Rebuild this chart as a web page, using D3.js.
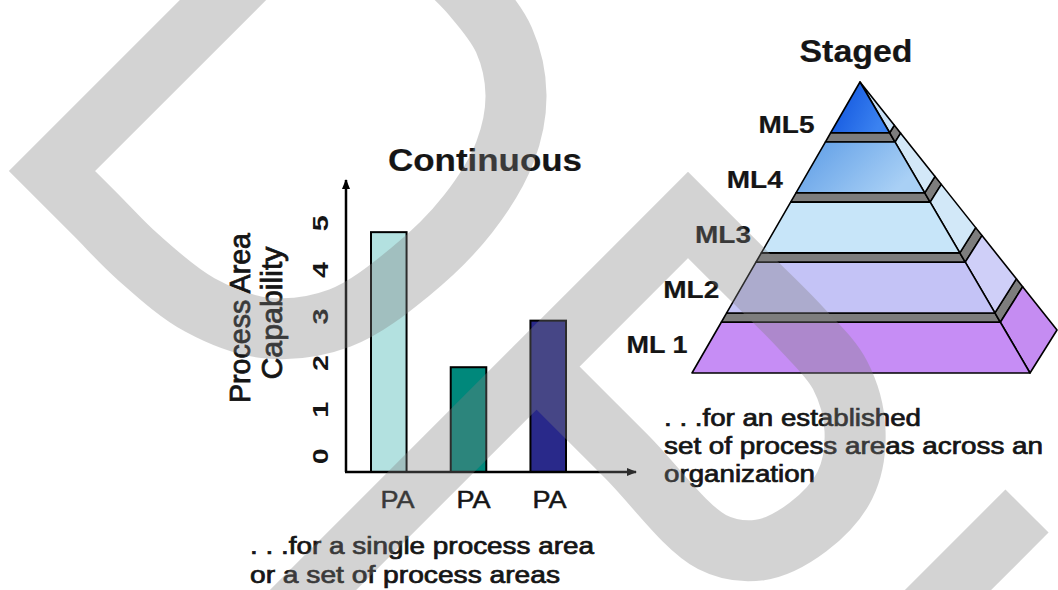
<!DOCTYPE html>
<html>
<head>
<meta charset="utf-8">
<script src="https://cdn.jsdelivr.net/npm/d3@7"></script>
<style>
  html, body { margin: 0; padding: 0; background: #ffffff; }
  svg { display: block; }
</style>
</head>
<body>
<svg id="chart" width="1058" height="590"></svg>
<script>
// Continuous representation: capability level of each process area
const processAreas = ["PA", "PA", "PA"];
const capability = [4.8, 1.9, 2.9];
const capabilityTicks = [0, 1, 2, 3, 4, 5];

// Staged representation: maturity levels, top of the pyramid first
const maturityLevels = ["ML5", "ML4", "ML3", "ML2", "ML 1"];

// Captions
const continuousTitle = "Continuous";
const stagedTitle = "Staged";
const axisTitle = ["Process Area", "Capability"];
const continuousCaption = [". . .for a single process area", "or a set of process areas"];
const stagedCaption = [". . .for an established", "set of process areas across an", "organization"];

const FONT = "'Liberation Sans', Arial, Helvetica, sans-serif";
const INK = "#151515";

const svg = d3.select("#chart");
svg.append("rect").attr("width", 1058).attr("height", 590).attr("fill", "#ffffff");

// small helper for a stretched text run
function txt(parent, s, o) {
  const t = parent.append("text")
    .text(s)
    .attr("x", o.x || 0).attr("y", o.y || 0)
    .attr("font-family", FONT)
    .attr("font-size", o.size)
    .attr("font-weight", o.weight || "normal")
    .attr("fill", INK)
    .attr("stroke", INK).attr("stroke-width", o.thick || 0.5)
    .attr("text-anchor", o.anchor || "start");
  if (o.len) t.attr("textLength", o.len).attr("lengthAdjust", "spacingAndGlyphs");
  if (o.transform) t.attr("transform", o.transform);
  return t;
}

// ---------- arrow markers ----------
const defs = svg.append("defs");
defs.append("marker")
  .attr("id", "arrow")
  .attr("viewBox", "0 0 10 8")
  .attr("refX", 9).attr("refY", 4)
  .attr("markerWidth", 11).attr("markerHeight", 8)
  .attr("markerUnits", "userSpaceOnUse")
  .attr("orient", "auto")
  .append("path").attr("d", "M0,0L10,4L0,8Z").attr("fill", "#000");

// ---------- continuous bar chart ----------
const y = d3.scaleLinear().domain([-0.35, 5.92]).range([472, 180]);
const x = d3.scaleBand().domain(d3.range(processAreas.length)).range([371, 566]).paddingInner(0.554);
const xLabel = d3.scalePoint().domain(d3.range(processAreas.length)).range([397, 549]);
const baseline = y(y.domain()[0]);
const axisX = x.range()[0] - 25;
const barFill = ["#b3e1e0", "#00887b", "#29298a"];

const chart = svg.append("g");

chart.selectAll("rect.bar")
  .data(capability)
  .join("rect")
  .attr("class", "bar")
  .attr("x", (d, i) => x(i))
  .attr("y", d => y(d))
  .attr("width", x.bandwidth())
  .attr("height", d => baseline - y(d))
  .attr("fill", (d, i) => barFill[i])
  .attr("stroke", "#000")
  .attr("stroke-width", 2);

// axes with arrow heads
chart.append("line")
  .attr("x1", axisX).attr("y1", baseline)
  .attr("x2", axisX).attr("y2", y(y.domain()[1]))
  .attr("stroke", "#000").attr("stroke-width", 2.5)
  .attr("marker-end", "url(#arrow)");
chart.append("line")
  .attr("x1", axisX - 1).attr("y1", baseline)
  .attr("x2", 636).attr("y2", baseline)
  .attr("stroke", "#000").attr("stroke-width", 2.5)
  .attr("marker-end", "url(#arrow)");

// rotated capability ticks
const yAxis = chart.append("g")
  .attr("transform", `translate(${axisX},0)`)
  .call(d3.axisLeft(y).tickValues(capabilityTicks).tickSize(0).tickFormat(d3.format("d")));
yAxis.select(".domain").remove();
yAxis.selectAll("text")
  .attr("x", 0).attr("dy", 0)
  .attr("text-anchor", "middle")
  .attr("transform", "translate(-18,0) rotate(-90)")
  .attr("font-family", FONT).attr("font-size", 22).attr("font-weight", "bold")
  .attr("fill", INK)
  .attr("textLength", 16).attr("lengthAdjust", "spacingAndGlyphs");

// process area labels
const xAxis = chart.append("g")
  .attr("transform", `translate(0,${baseline})`)
  .call(d3.axisBottom(xLabel).tickSize(0).tickFormat(i => processAreas[i]));
xAxis.select(".domain").remove();
xAxis.selectAll("text")
  .attr("y", 36).attr("dy", 0)
  .attr("font-family", FONT).attr("font-size", 24)
  .attr("fill", INK).attr("stroke", INK).attr("stroke-width", 0.5)
  .attr("textLength", 34).attr("lengthAdjust", "spacingAndGlyphs");

// axis title on two rotated lines
txt(chart, axisTitle[0], { size: 30, anchor: "middle", len: 170, thick: 0.8, transform: "translate(250,318) rotate(-90)" });
txt(chart, axisTitle[1], { size: 30, anchor: "middle", len: 133, thick: 0.8, transform: "translate(282,313) rotate(-90)" });

txt(chart, continuousTitle, { x: 485, y: 171, size: 32, weight: "bold", anchor: "middle", len: 194, thick: 0.2 });

txt(chart, continuousCaption[0], { x: 250, y: 554, size: 23, len: 344, thick: 0.7 });
txt(chart, continuousCaption[1], { x: 250, y: 583, size: 23, len: 310, thick: 0.7 });

// ---------- staged pyramid ----------
const apex = [860, 82];
const frontLeft = [692, 373];
const frontRight = [1030, 373];
const backRight = [1057, 330];
const along = (p, t) => [apex[0] + t * (p[0] - apex[0]), apex[1] + t * (p[1] - apex[1])];

const level = d3.scaleBand().domain(maturityLevels).range([0, 1]).paddingInner(0.155);

const frontFill = ["url(#g5)", "url(#g4)", "#c7e5f9", "#c4c3f6", "#c68df5"];
const sideFill = ["#c9e1f7", "#d3e8f8", "#d2e8f8", "#cfcff8", "#c58cf2"];

const gradients = [
  { id: "g5", from: "#0b4fdc", to: "#3b82f0" },
  { id: "g4", from: "#5b9be6", to: "#a9d0f5" }
];
gradients.forEach(g => {
  const lg = defs.append("linearGradient").attr("id", g.id)
    .attr("x1", "0").attr("y1", "0").attr("x2", "1").attr("y2", "0.4");
  lg.append("stop").attr("offset", "0").attr("stop-color", g.from);
  lg.append("stop").attr("offset", "1").attr("stop-color", g.to);
});

const pyramid = svg.append("g")
  .attr("stroke", "#000").attr("stroke-width", 1.6).attr("stroke-linejoin", "round");

const poly = pts => "M" + pts.map(p => p.join(",")).join("L") + "Z";
const front = (t0, t1) => poly([along(frontLeft, t0), along(frontRight, t0), along(frontRight, t1), along(frontLeft, t1)]);
const side = (t0, t1) => poly([along(frontRight, t0), along(backRight, t0), along(backRight, t1), along(frontRight, t1)]);

// grey ledges between the levels
maturityLevels.slice(1).forEach((lv, i) => {
  const t0 = level(maturityLevels[i]) + level.bandwidth();
  const t1 = level(lv);
  pyramid.append("path").attr("d", front(t0, t1)).attr("fill", "#7d7d7d");
  pyramid.append("path").attr("d", side(t0, t1)).attr("fill", "#7d7d7d");
});

maturityLevels.forEach((lv, i) => {
  const t0 = level(lv), t1 = t0 + level.bandwidth();
  pyramid.append("path").attr("d", side(t0, t1)).attr("fill", sideFill[i]);
  pyramid.append("path").attr("d", front(t0, t1)).attr("fill", frontFill[i]);
});

// level labels, right-aligned against the left face
const labelY = d3.scalePoint().domain(maturityLevels).range([133, 353]);
const leftEdgeX = yy => apex[0] + (yy - apex[1]) / (frontLeft[1] - apex[1]) * (frontLeft[0] - apex[0]);
maturityLevels.forEach(lv => {
  const yy = labelY(lv);
  txt(svg, lv, { x: leftEdgeX(yy) - 16, y: yy, size: 23, weight: "bold", anchor: "end", len: lv.length > 3 ? 61 : 56, thick: 0.2 });
});

txt(svg, stagedTitle, { x: 856, y: 62, size: 31, weight: "bold", anchor: "middle", len: 113, thick: 0.2 });

const stagedLens = [257, 379, 151];
stagedCaption.forEach((s, i) => {
  txt(svg, s, { x: 664, y: 426 + i * 28, size: 23, len: stagedLens[i], thick: 0.7 });
});

// ---------- grey ribbon logo laid over the page ----------
const ribbon = svg.append("g").attr("opacity", 0.34)
  .attr("fill", "none").attr("stroke", "#808080")
  .attr("stroke-width", 61).attr("stroke-linejoin", "miter").attr("stroke-miterlimit", 10);
const smooth = d3.line().curve(d3.curveCatmullRom.alpha(0.5));

const loopLeft = [[52,171],[95,214],[138,257],[200,305],[267,328],[340,318],[410,272],[468,214],[505,152],[516,95],[504,40],[472,-5],[442,-35]];
ribbon.append("path").attr("d", "M250,-27" + smooth(loopLeft).replace(/^M/, "L"));

const loopRight = [[688,215],[745,272],[800,327],[840,375],[855,430],[845,485],[808,527],[760,550],[712,542],[626,456],[540,370]];
ribbon.append("path").attr("d", "M283,620" + smooth(loopRight).replace(/^M/, "L"));

ribbon.append("path").attr("d", "M1027,511L897,641");
</script>
</body>
</html>
